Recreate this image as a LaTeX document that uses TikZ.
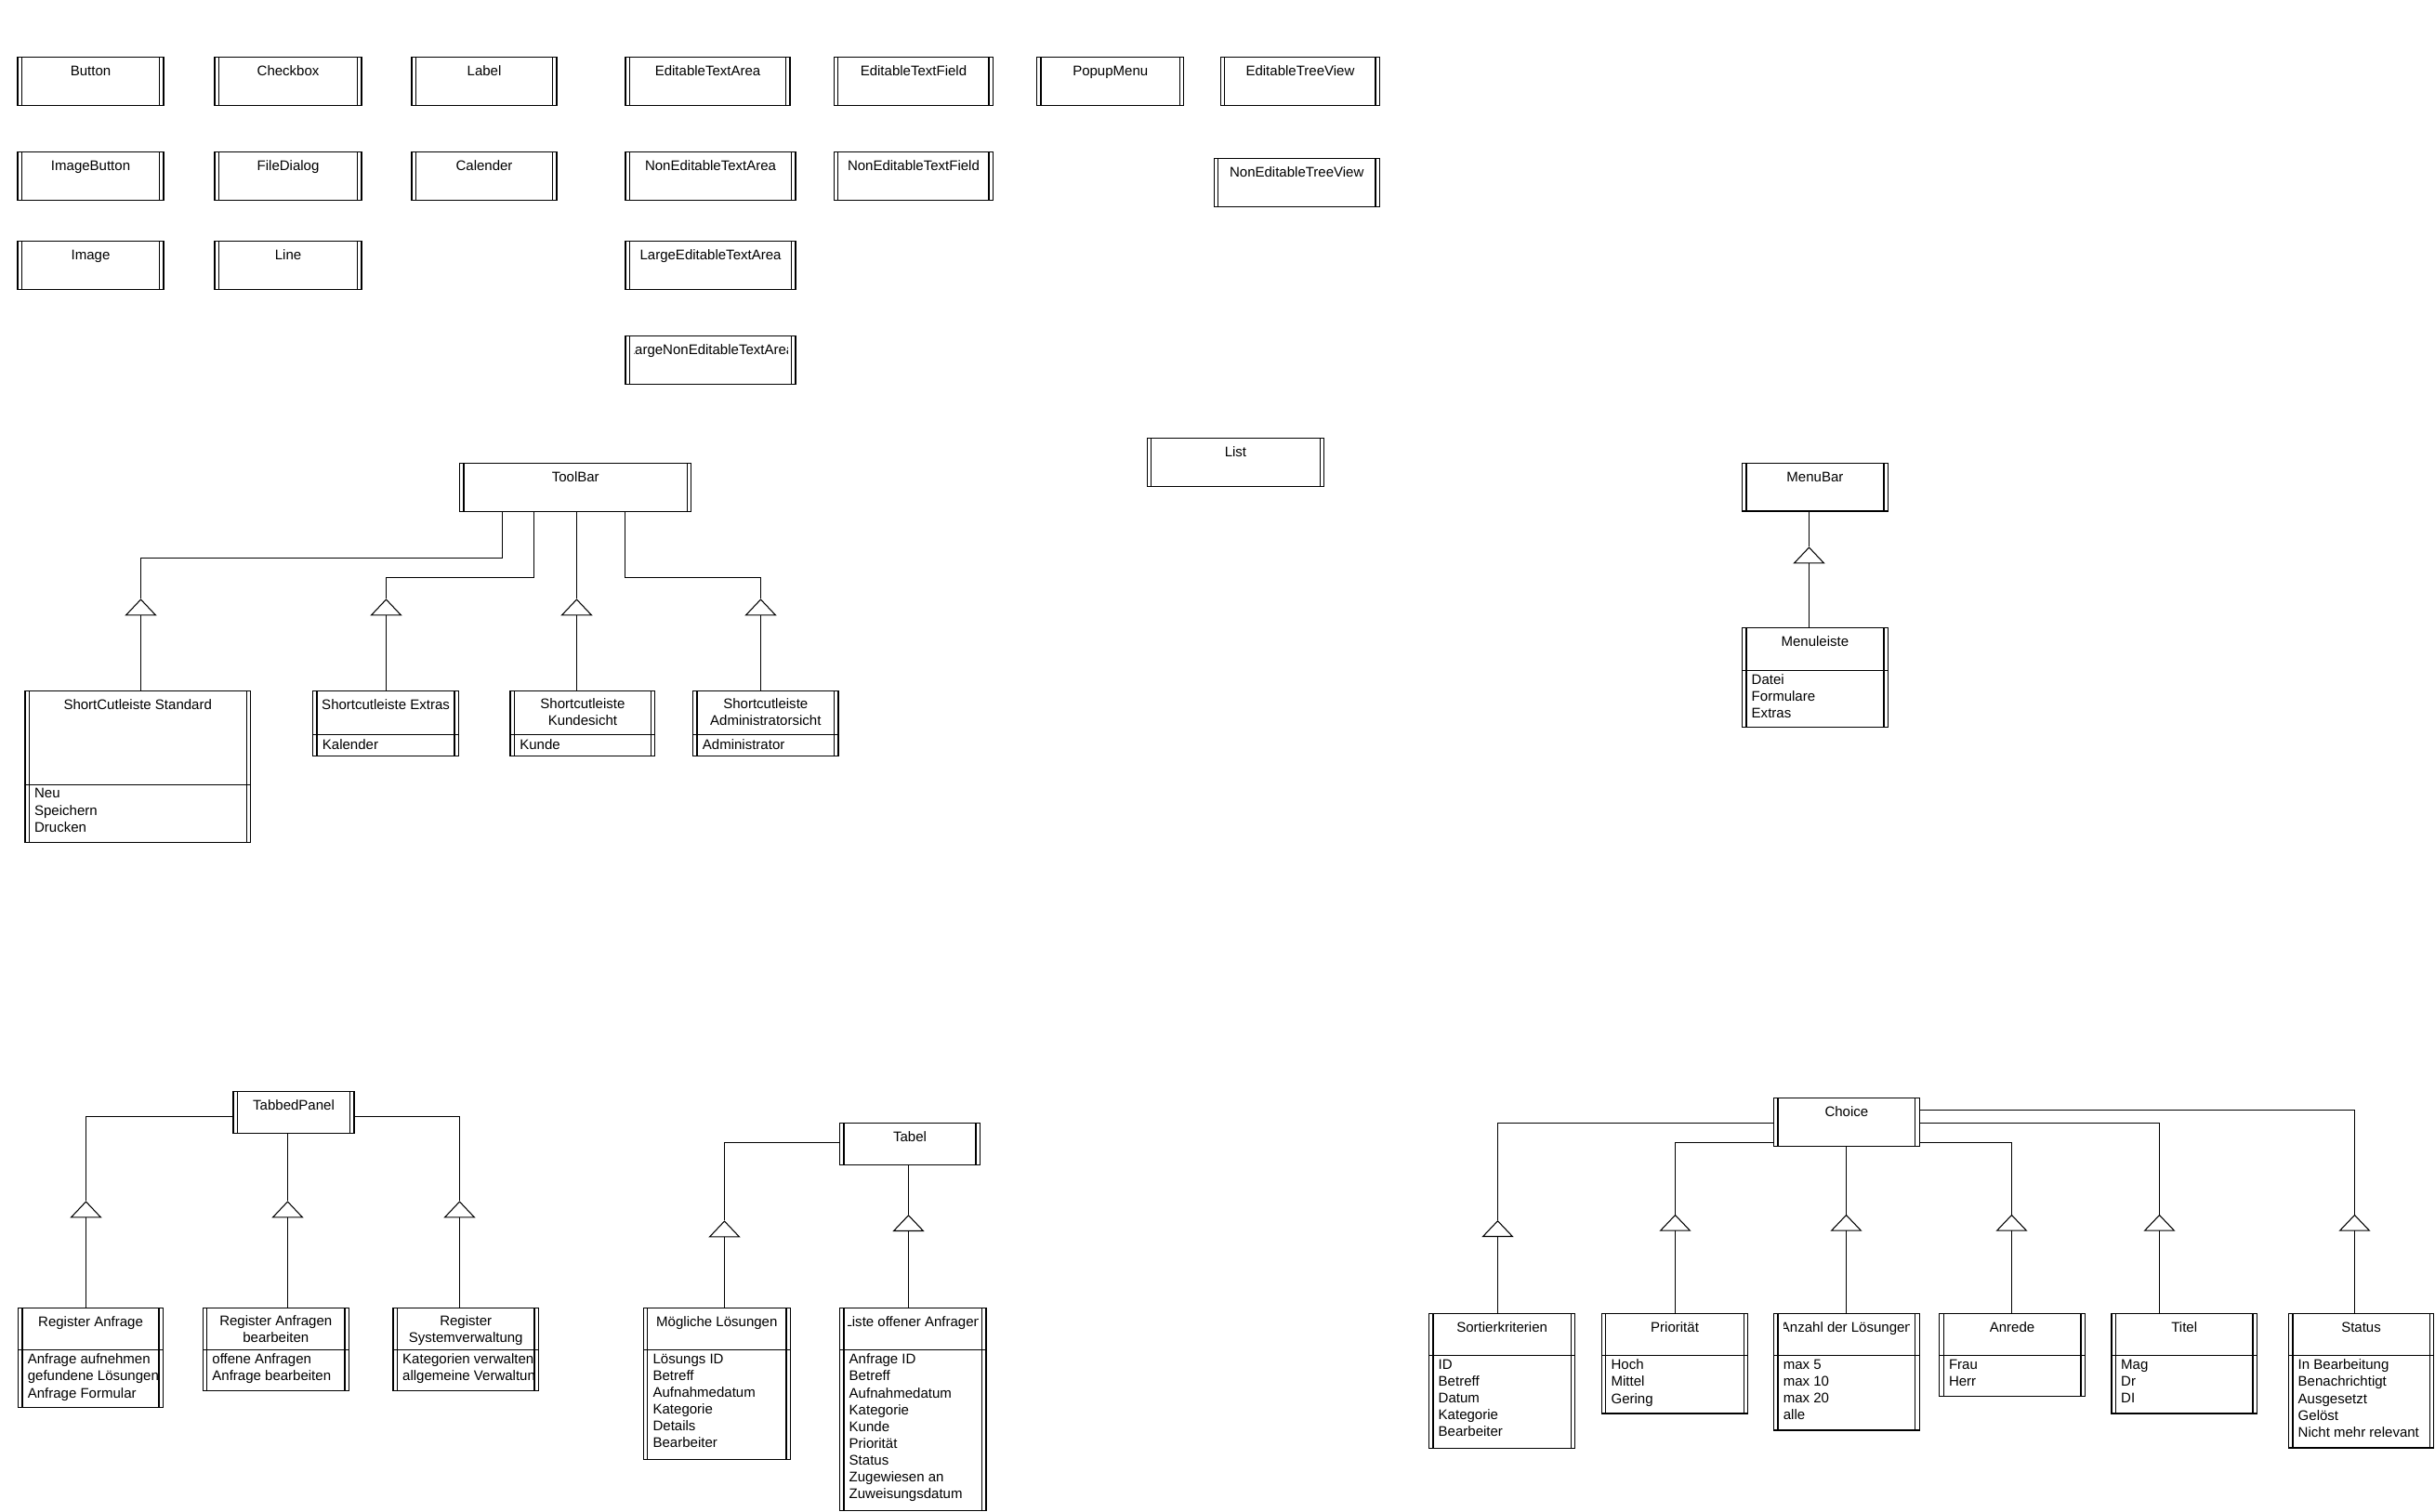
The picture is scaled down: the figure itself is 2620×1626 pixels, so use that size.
\documentclass[tikz,border=0pt]{standalone}
\usepackage{fontspec}
\setmainfont{Liberation Sans}
\usetikzlibrary{arrows.meta,positioning}

\begin{document}
\begin{tikzpicture}[x=0.01cm, y=-0.01cm,
	cls/.style={draw, rectangle, line width=0.35pt, inner sep=0pt, outer sep=0pt, anchor=north west,
		path picture={\draw[line width=0.35pt]
			([xshift=0.044cm]path picture bounding box.north west)--([xshift=0.044cm]path picture bounding box.south west)
			([xshift=-0.044cm]path picture bounding box.north east)--([xshift=-0.044cm]path picture bounding box.south east);}},
	ttl/.style={anchor=north, align=center, inner sep=0pt, font=\txt, execute at begin node={\rule{0pt}{0.12cm}}},
	itm/.style={anchor=north west, align=left, inner sep=0pt, font=\txt, execute at begin node={\rule{0pt}{0.12cm}}},
	con/.style={line width=0.3pt},
	gen/.style={con, -{Triangle[open, length=0.18cm, width=0.34cm]}}]
	\def\txt{\fontsize{4.27pt}{5.15pt}\selectfont}	%text in the boxes
	\useasboundingbox (0,0) rectangle (2620,1626);
	
	%SINGLE BOXES
	\foreach \nm/\x/\y/\w/\lbl in {button/19/61.7/1.57/Button, checkbox/231/61.7/1.58/Checkbox, label/443/61.7/1.56/Label,
		edta/673/61.7/1.77/EditableTextArea, edtf/897.4/61.7/1.71/EditableTextField, popup/1115.7/61.7/1.58/PopupMenu,
		edtv/1313.4/61.7/1.71/EditableTreeView, imgbutton/19/163.3/1.57/ImageButton, filedialog/231/163.3/1.58/FileDialog,
		calender/443/163.3/1.56/Calender, nedta/673/163.3/1.83/NonEditableTextArea, nedtf/897.4/163.3/1.71/NonEditableTextField,
		nedtv/1306.2/170.3/1.78/NonEditableTreeView, image/19/259.3/1.57/Image, line/231/259.3/1.58/Line,
		ledta/673/259.3/1.83/LargeEditableTextArea, list/1234.4/471.7/1.90/List}{
		\node[cls, minimum width=\w cm, minimum height=0.52cm] (\nm) at (\x,\y) {};
		\node[ttl] (\nm-t) at ([yshift=-0.07cm]\nm.north) {\lbl};
	}
	\node[cls, minimum width=1.83cm, minimum height=0.52cm] (lnedta) at (673,361.7) {};
	\begin{scope}
		\clip ([xshift=0.09cm]lnedta.north west) rectangle ([xshift=-0.09cm]lnedta.south east);
		\node[ttl] (lnedta-t) at ([yshift=-0.07cm]lnedta.north) {LargeNonEditableTextArea};
	\end{scope}
	
	%TOOLBAR
	\node[cls, minimum width=2.49cm, minimum height=0.52cm] (toolbar) at (494.7,498.3) {};
	\node[ttl] (toolbar-t) at ([yshift=-0.07cm]toolbar.north) {ToolBar};
	%
	\node[cls, minimum width=2.425cm, minimum height=1.006cm] (std) at (26.9,743.7) {};
	\node[cls, minimum width=2.425cm, minimum height=0.62cm, below=0pt of std] (std-a) {};
	\node[ttl] (std-t) at ([yshift=-0.07cm]std.north) {ShortCutleiste Standard};
	\node[itm] (std-l) at ([xshift=0.095cm,yshift=-0.035cm]std-a.north west) {Neu\\Speichern\\Drucken};
	%
	\node[cls, minimum width=1.567cm, minimum height=0.466cm] (extras) at (336.7,743.7) {};
	\node[cls, minimum width=1.567cm, minimum height=0.23cm, below=0pt of extras] (extras-a) {};
	\node[ttl] (extras-t) at ([yshift=-0.07cm]extras.north) {Shortcutleiste Extras};
	\node[itm] (extras-l) at ([xshift=0.095cm,yshift=-0.03cm]extras-a.north west) {Kalender};
	%
	\node[cls, minimum width=1.555cm, minimum height=0.466cm] (kunde) at (549.1,743.7) {};
	\node[cls, minimum width=1.555cm, minimum height=0.23cm, below=0pt of kunde] (kunde-a) {};
	\node[ttl] (kunde-t) at ([yshift=-0.07cm]kunde.north) {Shortcutleiste\\Kundesicht};
	\node[itm] (kunde-l) at ([xshift=0.095cm,yshift=-0.03cm]kunde-a.north west) {Kunde};
	%
	\node[cls, minimum width=1.561cm, minimum height=0.466cm] (admin) at (745.7,743.7) {};
	\node[cls, minimum width=1.561cm, minimum height=0.23cm, below=0pt of admin] (admin-a) {};
	\node[ttl] (admin-t) at ([yshift=-0.07cm]admin.north) {Shortcutleiste\\Administratorsicht};
	\node[itm] (admin-l) at ([xshift=0.095cm,yshift=-0.03cm]admin-a.north west) {Administrator};
	%
	\coordinate (b1) at (540.5,600.5);	\coordinate (g1) at (151.5,644.3);
	\coordinate (b2) at (574.5,621.5);	\coordinate (g2) at (415.5,644.3);
	\coordinate (g3) at (620.5,644.3);
	\coordinate (b4) at (672.5,621.5);	\coordinate (g4) at (818.5,644.3);
	\draw[con] (b1 |- toolbar.south) -- (b1) -| (g1);
	\draw[con] (b2 |- toolbar.south) -- (b2) -| (g2);
	\draw[con] (g3 |- toolbar.south) -- (g3);
	\draw[con] (b4 |- toolbar.south) -- (b4) -| (g4);
	\draw[gen] (std.north -| g1) -- (g1);
	\draw[gen] (extras.north -| g2) -- (g2);
	\draw[gen] (kunde.north -| g3) -- (g3);
	\draw[gen] (admin.north -| g4) -- (g4);
	
	%MENUBAR
	\node[cls, minimum width=1.567cm, minimum height=0.513cm] (menubar) at (1874.5,498.7) {};
	\node[ttl] (menubar-t) at ([yshift=-0.07cm]menubar.north) {MenuBar};
	\node[cls, minimum width=1.567cm, minimum height=0.46cm] (menuleiste) at (1874.5,675.3) {};
	\node[cls, minimum width=1.567cm, minimum height=0.61cm, below=0pt of menuleiste] (menuleiste-a) {};
	\node[ttl] (menuleiste-t) at ([yshift=-0.07cm]menuleiste.north) {Menuleiste};
	\node[itm] (menuleiste-l) at ([xshift=0.095cm,yshift=-0.035cm]menuleiste-a.north west) {Datei\\Formulare\\Extras};
	\coordinate (n1) at (1946.5,588.3);
	\draw[con] (menubar.south -| n1) -- (n1);
	\draw[gen] (menuleiste.north -| n1) -- (n1);
	
	%TABBEDPANEL
	\node[cls, minimum width=1.298cm, minimum height=0.45cm] (tabbed) at (251.1,1174.3) {};
	\node[ttl] (tabbed-t) at ([yshift=-0.07cm]tabbed.north) {TabbedPanel};
	%
	\node[cls, minimum width=1.558cm, minimum height=0.45cm] (ranf) at (19.6,1407.7) {};
	\node[cls, minimum width=1.558cm, minimum height=0.616cm, below=0pt of ranf] (ranf-a) {};
	\node[ttl] (ranf-t) at ([yshift=-0.07cm]ranf.north) {Register Anfrage};
	\node[itm] (ranf-l) at ([xshift=0.095cm,yshift=-0.035cm]ranf-a.north west) {Anfrage aufnehmen\\gefundene Lösungen\\Anfrage Formular};
	%
	\node[cls, minimum width=1.571cm, minimum height=0.45cm] (rbea) at (218.2,1407.7) {};
	\node[cls, minimum width=1.571cm, minimum height=0.436cm, below=0pt of rbea] (rbea-a) {};
	\node[ttl] (rbea-t) at ([yshift=-0.07cm]rbea.north) {Register Anfragen\\bearbeiten};
	\node[itm] (rbea-l) at ([xshift=0.095cm,yshift=-0.035cm]rbea-a.north west) {offene Anfragen\\Anfrage bearbeiten};
	%
	\node[cls, minimum width=1.564cm, minimum height=0.45cm] (rsys) at (423,1407.7) {};
	\node[cls, minimum width=1.564cm, minimum height=0.436cm, below=0pt of rsys] (rsys-a) {};
	\node[ttl] (rsys-t) at ([yshift=-0.07cm]rsys.north) {Register\\Systemverwaltung};
	\begin{scope}
		\clip ([xshift=0.044cm]rsys-a.north west) rectangle ([xshift=-0.044cm]rsys-a.south east);
		\node[itm] (rsys-l) at ([xshift=0.095cm,yshift=-0.035cm]rsys-a.north west) {Kategorien verwalten\\allgemeine Verwaltung};
	\end{scope}
	%
	\coordinate (t1) at (92.5,1201.5);	\coordinate (k1) at (92.5,1292.3);
	\coordinate (k2) at (309.5,1292.3);
	\coordinate (t3) at (494.5,1201.5);	\coordinate (k3) at (494.5,1292.3);
	\draw[con] (t1 -| tabbed.west) -| (k1);
	\draw[con] (k2 |- tabbed.south) -- (k2);
	\draw[con] (t3 -| tabbed.east) -| (k3);
	\draw[gen] (ranf.north -| k1) -- (k1);
	\draw[gen] (rbea.north -| k2) -- (k2);
	\draw[gen] (rsys.north -| k3) -- (k3);
	
	%TABEL
	\node[cls, minimum width=1.509cm, minimum height=0.45cm] (tabel) at (903.5,1208.3) {};
	\node[ttl] (tabel-t) at ([yshift=-0.07cm]tabel.north) {Tabel};
	%
	\node[cls, minimum width=1.578cm, minimum height=0.45cm] (moegl) at (692.4,1407.7) {};
	\node[cls, minimum width=1.578cm, minimum height=1.176cm, below=0pt of moegl] (moegl-a) {};
	\node[ttl] (moegl-t) at ([yshift=-0.07cm]moegl.north) {Mögliche Lösungen};
	\node[itm] (moegl-l) at ([xshift=0.095cm,yshift=-0.035cm]moegl-a.north west) {Lösungs ID\\Betreff\\Aufnahmedatum\\Kategorie\\Details\\Bearbeiter};
	%
	\node[cls, minimum width=1.575cm, minimum height=0.45cm] (liste) at (903.5,1407.7) {};
	\node[cls, minimum width=1.575cm, minimum height=1.728cm, below=0pt of liste] (liste-a) {};
	\begin{scope}
		\clip ([xshift=0.085cm]liste.north west) rectangle ([xshift=-0.085cm]liste.south east);
		\node[ttl] (liste-t) at ([yshift=-0.07cm]liste.north) {Liste offener Anfragen};
	\end{scope}
	\node[itm] (liste-l) at ([xshift=0.095cm,yshift=-0.035cm]liste-a.north west) {Anfrage ID\\Betreff\\Aufnahmedatum\\Kategorie\\Kunde\\Priorität\\Status\\Zugewiesen an\\Zuweisungsdatum};
	%
	\coordinate (u1) at (779.5,1229.5);	\coordinate (m1) at (779.5,1313.3);
	\coordinate (m2) at (977.5,1307);
	\draw[con] (u1 -| tabel.west) -| (m1);
	\draw[con] (m2 |- tabel.south) -- (m2);
	\draw[gen] (moegl.north -| m1) -- (m1);
	\draw[gen] (liste.north -| m2) -- (m2);
	
	%CHOICE
	\node[cls, minimum width=1.565cm, minimum height=0.516cm] (choice) at (1908.6,1181.7) {};
	\node[ttl] (choice-t) at ([yshift=-0.07cm]choice.north) {Choice};
	%
	\node[cls, minimum width=1.572cm, minimum height=0.454cm] (sort) at (1537.5,1413.3) {};
	\node[cls, minimum width=1.572cm, minimum height=0.996cm, below=0pt of sort] (sort-a) {};
	\node[ttl] (sort-t) at ([yshift=-0.07cm]sort.north) {Sortierkriterien};
	\node[itm] (sort-l) at ([xshift=0.095cm,yshift=-0.035cm]sort-a.north west) {ID\\Betreff\\Datum\\Kategorie\\Bearbeiter};
	%
	\node[cls, minimum width=1.572cm, minimum height=0.454cm] (prio) at (1723.4,1413.3) {};
	\node[cls, minimum width=1.572cm, minimum height=0.623cm, below=0pt of prio] (prio-a) {};
	\node[ttl] (prio-t) at ([yshift=-0.07cm]prio.north) {Priorität};
	\node[itm] (prio-l) at ([xshift=0.095cm,yshift=-0.035cm]prio-a.north west) {Hoch\\Mittel\\Gering};
	%
	\node[cls, minimum width=1.565cm, minimum height=0.454cm] (anz) at (1908.6,1413.3) {};
	\node[cls, minimum width=1.565cm, minimum height=0.803cm, below=0pt of anz] (anz-a) {};
	\begin{scope}
		\clip ([xshift=0.11cm]anz.north west) rectangle ([xshift=-0.11cm]anz.south east);
		\node[ttl] (anz-t) at ([yshift=-0.07cm]anz.north) {Anzahl der Lösungen};
	\end{scope}
	\node[itm] (anz-l) at ([xshift=0.095cm,yshift=-0.035cm]anz-a.north west) {max 5\\max 10\\max 20\\alle};
	%
	\node[cls, minimum width=1.564cm, minimum height=0.454cm] (anrede) at (2086.8,1413.3) {};
	\node[cls, minimum width=1.564cm, minimum height=0.436cm, below=0pt of anrede] (anrede-a) {};
	\node[ttl] (anrede-t) at ([yshift=-0.07cm]anrede.north) {Anrede};
	\node[itm] (anrede-l) at ([xshift=0.095cm,yshift=-0.035cm]anrede-a.north west) {Frau\\Herr};
	%
	\node[cls, minimum width=1.564cm, minimum height=0.454cm] (titel) at (2272,1413.3) {};
	\node[cls, minimum width=1.564cm, minimum height=0.623cm, below=0pt of titel] (titel-a) {};
	\node[ttl] (titel-t) at ([yshift=-0.07cm]titel.north) {Titel};
	\node[itm] (titel-l) at ([xshift=0.095cm,yshift=-0.035cm]titel-a.north west) {Mag\\Dr\\DI};
	%
	\node[cls, minimum width=1.56cm, minimum height=0.454cm] (status) at (2462.5,1413.3) {};
	\node[cls, minimum width=1.56cm, minimum height=0.993cm, below=0pt of status] (status-a) {};
	\node[ttl] (status-t) at ([yshift=-0.07cm]status.north) {Status};
	\node[itm] (status-l) at ([xshift=0.095cm,yshift=-0.035cm]status-a.north west) {In Bearbeitung\\Benachrichtigt\\Ausgesetzt\\Gelöst\\Nicht mehr relevant};
	%
	\coordinate (s1) at (1611.5,1208.5);	\coordinate (h1) at (1611.5,1313);
	\coordinate (s2) at (1802.5,1229.5);	\coordinate (h2) at (1802.5,1306.7);
	\coordinate (h3) at (1986.5,1306.7);
	\coordinate (s4) at (2164.5,1229.5);	\coordinate (h4) at (2164.5,1306.7);
	\coordinate (s5) at (2323.5,1208.5);	\coordinate (h5) at (2323.5,1306.7);
	\coordinate (s6) at (2533.5,1194.5);	\coordinate (h6) at (2533.5,1306.7);
	\draw[con] (s1 -| choice.west) -| (h1);
	\draw[con] (s2 -| choice.west) -| (h2);
	\draw[con] (h3 |- choice.south) -- (h3);
	\draw[con] (s4 -| choice.east) -| (h4);
	\draw[con] (s5 -| choice.east) -| (h5);
	\draw[con] (s6 -| choice.east) -| (h6);
	\draw[gen] (sort.north -| h1) -- (h1);
	\draw[gen] (prio.north -| h2) -- (h2);
	\draw[gen] (anz.north -| h3) -- (h3);
	\draw[gen] (anrede.north -| h4) -- (h4);
	\draw[gen] (titel.north -| h5) -- (h5);
	\draw[gen] (status.north -| h6) -- (h6);
\end{tikzpicture}
\end{document}
